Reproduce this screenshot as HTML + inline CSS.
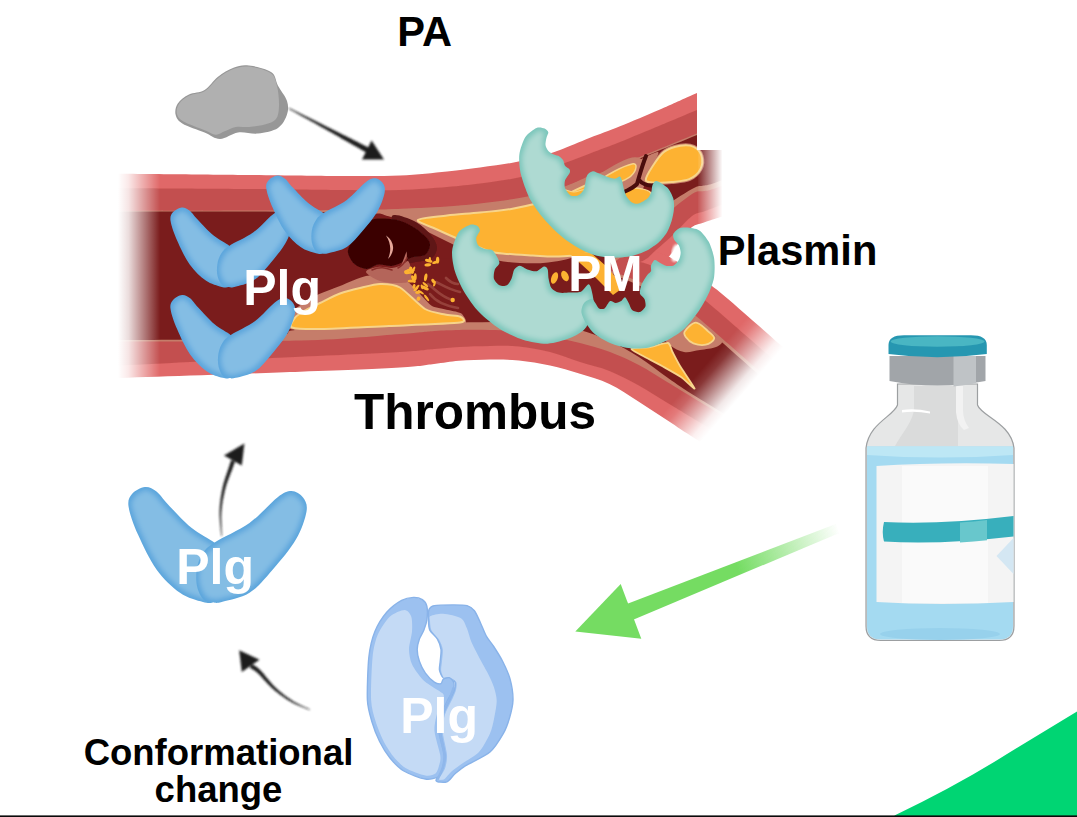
<!DOCTYPE html>
<html><head><meta charset="utf-8"><title>Plasminogen activation</title>
<style>
html,body{margin:0;padding:0;background:#fff;}
body{width:1077px;height:817px;overflow:hidden;font-family:"Liberation Sans",sans-serif;}
svg{display:block;}
text{font-family:"Liberation Sans",sans-serif;font-weight:bold;}
</style></head><body>
<svg width="1077" height="817" viewBox="0 0 1077 817">
<defs>
<linearGradient id="fadeL" gradientUnits="userSpaceOnUse" x1="118" y1="0" x2="160" y2="0">
<stop offset="0" stop-color="#fff" stop-opacity="1"/><stop offset="0.25" stop-color="#fff" stop-opacity="0.85"/><stop offset="1" stop-color="#fff" stop-opacity="0"/></linearGradient>
<linearGradient id="fadeU" gradientUnits="userSpaceOnUse" x1="697" y1="0" x2="722.5" y2="0">
<stop offset="0" stop-color="#fff" stop-opacity="0"/><stop offset="1" stop-color="#fff" stop-opacity="1"/></linearGradient>
<linearGradient id="fadeB" gradientUnits="userSpaceOnUse" x1="713" y1="356" x2="748.5" y2="387">
<stop offset="0" stop-color="#fff" stop-opacity="0"/><stop offset="0.2" stop-color="#fff" stop-opacity="0.12"/><stop offset="0.8" stop-color="#fff" stop-opacity="0.9"/><stop offset="1" stop-color="#fff" stop-opacity="1"/></linearGradient>
<linearGradient id="gArrow" gradientUnits="userSpaceOnUse" x1="735" y1="563" x2="838" y2="526">
<stop offset="0" stop-color="#74DC62" stop-opacity="1"/><stop offset="1" stop-color="#74DC62" stop-opacity="0"/></linearGradient>
<filter id="soft" x="-5%" y="-5%" width="110%" height="110%"><feGaussianBlur stdDeviation="0.6"/></filter>
<filter id="softA" x="-5%" y="-5%" width="110%" height="110%"><feGaussianBlur stdDeviation="0.8"/></filter>
<filter id="soft1" x="-5%" y="-5%" width="110%" height="110%"><feGaussianBlur stdDeviation="1"/></filter>
<filter id="edgeTeal" x="-5%" y="-5%" width="110%" height="110%">
<feFlood flood-color="#AEDAD2" result="light"/>
<feMorphology in="SourceAlpha" operator="erode" radius="3.2" result="er"/>
<feGaussianBlur in="er" stdDeviation="2.4" result="erb"/>
<feComposite in="light" in2="erb" operator="in" result="li"/>
<feComposite in="li" in2="SourceAlpha" operator="in" result="lc"/>
<feMerge><feMergeNode in="SourceGraphic"/><feMergeNode in="lc"/></feMerge>
<feGaussianBlur stdDeviation="0.5"/>
</filter>
<filter id="edgeBlue" x="-5%" y="-5%" width="110%" height="110%">
<feFlood flood-color="#84BDE4" result="light"/>
<feMorphology in="SourceAlpha" operator="erode" radius="3" result="er"/>
<feGaussianBlur in="er" stdDeviation="2.4" result="erb"/>
<feComposite in="light" in2="erb" operator="in" result="li"/>
<feComposite in="li" in2="SourceAlpha" operator="in" result="lc"/>
<feMerge><feMergeNode in="SourceGraphic"/><feMergeNode in="lc"/></feMerge>
<feGaussianBlur stdDeviation="0.5"/>
</filter>
<clipPath id="vclip"><rect x="100" y="0" width="597" height="500"/><rect x="697" y="150" width="200" height="400"/></clipPath>
</defs>
<rect x="0" y="0" width="1077" height="817" fill="#fff"/>
<g clip-path="url(#vclip)" filter="url(#soft)">
<path d="M100,173.5C125,173.8 210,174.6 250,175C290,175.4 315,175.9 340,176C365,176.1 382.2,176.3 400,175.5C417.8,174.7 433.7,172.7 447,171.4C460.3,170.1 468.9,169 480,167.5C491.1,166 503.7,164.3 513.7,162.5C523.7,160.7 532.3,158.6 540,156.5C547.7,154.4 551.7,153.1 560,150C568.3,146.9 580,141.8 590,137.8C600,133.9 608.3,131 620,126.3C631.7,121.6 647.2,115 660,109.5C672.8,104 677,101.8 697,93C717,84.2 766.2,63 780,57L780,198C769.5,201.4 729.4,214.2 716.7,218.3C704,222.4 708.1,221.1 704,222.5C699.9,223.9 695.8,224.2 692,227C688.2,229.8 684.3,234.7 681,239C677.7,243.3 675.5,248.8 672,253C668.5,257.2 665.3,260.5 660,264C654.7,267.5 650,273 640,274C630,275 623.3,268.2 600,270C576.7,271.8 550,281.7 500,285C450,288.3 366.7,289.2 300,290C233.3,290.8 133.3,290 100,290Z" fill="#E06767"/>
<path d="M100,258C133.3,258 233.3,258 300,258C366.7,258 450,258.3 500,258C550,257.7 576.7,257.3 600,256C623.3,254.7 629.7,250.3 640,250C650.3,249.7 656.5,252.5 662,254C667.5,255.5 668.3,256.2 673,259C677.7,261.8 682.7,265.9 690,271C697.3,276.1 701.4,277.1 716.7,289.6C732,302.1 762.7,329.5 781.6,345.9C800.5,362.3 821.9,381 830,388L760,478C749.6,471.7 712.8,449.5 697.5,440C682.2,430.5 677.8,427.2 668,420.8C658.2,414.4 648.6,407.8 638.8,401.7C629,395.6 619.2,388.6 609.4,384C599.6,379.4 589.9,376.9 580,373.8C570.1,370.7 560.2,367.7 550,365.5C539.8,363.3 529,361.5 519,360.5C509,359.5 500,359.6 490,359.6C480,359.7 468.3,360.1 459,360.8C449.7,361.5 443.8,362.9 434,364C424.2,365.1 422.3,366.2 400,367.5C377.7,368.8 350,369.9 300,371.7C250,373.5 133.3,377.4 100,378.5Z" fill="#E06767"/>
<path d="M100,188C125,188.2 210,188.7 250,189C290,189.3 315,189.8 340,190C365,190.2 382.2,190.5 400,190C417.8,189.5 433.7,188.1 447,187C460.3,185.9 468.9,184.9 480,183.5C491.1,182.1 503.7,180.4 513.7,178.5C523.7,176.6 532.3,174.3 540,172C547.7,169.7 551.7,167.9 560,164.8C568.3,161.7 580,157.2 590,153.4C600,149.6 608.3,146.7 620,142C631.7,137.3 647.2,130.8 660,125.5C672.8,120.2 677,118.4 697,110C717,101.6 766.2,80.8 780,75L780,183C769.5,186.9 729.4,201.9 716.7,206.7C704,211.4 708.1,209.9 704,211.5C699.9,213.1 697,212.2 692,216C687,219.8 680,228.3 674,234C668,239.7 661.7,245.3 656,250C650.3,254.7 649.3,258.7 640,262C630.7,265.3 623.3,266.2 600,270C576.7,273.8 550,281.7 500,285C450,288.3 366.7,289.2 300,290C233.3,290.8 133.3,290 100,290Z" fill="#C3504F"/>
<path d="M100,258C133.3,258 233.3,258 300,258C366.7,258 450,258.3 500,258C550,257.7 576.7,255.3 600,256C623.3,256.7 630,259.7 640,262C650,264.3 652.7,266.2 660,270C667.3,273.8 676.2,279.8 684,285C691.8,290.2 691.9,289.3 706.5,301.4C721.1,313.5 752.5,341.3 771.4,357.7C790.3,374.1 811.7,392.8 819.8,399.8L760,459C749.6,452.7 712.8,430.3 697.5,421C682.2,411.7 677.8,409.1 668,403.2C658.2,397.3 648.6,390.9 638.8,385.5C629,380.1 619.2,374.8 609.4,370.9C599.6,367 589.9,365.1 580,362C570.1,358.9 560.2,354.6 550,352C539.8,349.4 529,347.5 519,346.5C509,345.5 500,345.9 490,346C480,346.1 468.3,346.5 459,347C449.7,347.5 443.8,348.2 434,349C424.2,349.8 422.3,350.7 400,352C377.7,353.3 350,354.4 300,356.8C250,359.2 133.3,364.9 100,366.5Z" fill="#C3504F"/>
<path d="M100,211C125,210.9 210,210.7 250,210.5C290,210.3 315,210.2 340,210C365,209.8 382.2,209.6 400,209C417.8,208.4 433.7,207.4 447,206.5C460.3,205.6 468.9,204.8 480,203.5C491.1,202.2 503.7,200.6 513.7,199C523.7,197.4 532.3,195.8 540,194C547.7,192.2 551.7,190.8 560,188C568.3,185.2 580,180.8 590,177C600,173.2 602.2,172.2 620,165C637.8,157.8 670.3,144.5 697,133.5C723.7,122.5 766.2,104.8 780,99L780,164C769.5,167.9 729.4,183.2 716.7,187.7C704,192.2 708.1,189.9 704,191C699.9,192.1 699,189.5 692,194C685,198.5 672,209 662,218C652,227 641.3,239.7 632,248C622.7,256.3 611.3,264.3 606,268C600.7,271.7 617.7,267.2 600,270C582.3,272.8 550,281.7 500,285C450,288.3 366.7,289.2 300,290C233.3,290.8 133.3,290 100,290Z" fill="#C57D6B"/>
<path d="M100,258C133.3,258 233.3,258 300,258C366.7,258 450,258.3 500,258C550,257.7 582.3,254.3 600,256C617.7,257.7 599.3,263.7 606,268C612.7,272.3 629.7,277.2 640,282C650.3,286.8 658.9,291.5 668,297C677.1,302.5 679.4,302.6 694.7,315C710,327.4 740.7,354.9 759.6,371.3C778.5,387.7 799.9,406.4 808,413.4L760,438C749.6,431.8 712.8,409.7 697.5,400.5C682.2,391.3 677.8,388.5 668,382.6C658.2,376.7 648.6,370.1 638.8,365C629,359.9 619.2,355.5 609.4,351.8C599.6,348.1 589.9,345.6 580,343C570.1,340.4 560.2,338.4 550,336.5C539.8,334.6 529,332.6 519,331.5C509,330.4 500,330.2 490,330C480,329.8 468.3,329.8 459,330C449.7,330.2 443.8,330.3 434,331C424.2,331.7 422.3,332.4 400,334C377.7,335.6 350,339.2 300,340.5C250,341.8 133.3,341.3 100,341.5Z" fill="#C57D6B"/>
<path d="M100,211.5C125,211.5 210,211.3 250,211.5C290,211.7 318.3,212.2 340,212.5C361.7,212.8 362.2,213.8 380,213.6C397.8,213.3 430.3,211.9 447,211C463.7,210.1 468.9,209.2 480,208C491.1,206.8 503.7,205.3 513.7,203.5C523.7,201.7 532.3,199.2 540,197C547.7,194.8 551.7,193.1 560,190C568.3,186.9 580,182.4 590,178.5C600,174.6 602.2,173.8 620,166.5C637.8,159.2 670.3,146.1 697,135C723.7,123.9 766.2,105.8 780,100L780,159C769.5,162.9 729.4,177.8 716.7,182.2C704,186.6 708.1,184.4 704,185.5C699.9,186.6 699.7,184.6 692,189C684.3,193.4 668.7,202.7 658,212C647.3,221.3 637.2,235.7 628,245C618.8,254.3 607.7,263.8 603,268C598.3,272.2 617.2,267.2 600,270C582.8,272.8 550,281.7 500,285C450,288.3 366.7,289.2 300,290C233.3,290.8 133.3,290 100,290Z" fill="#7A1E1C"/>
<path d="M100,258C133.3,258 233.3,258 300,258C366.7,258 450,258.3 500,258C550,257.7 582.8,254.2 600,256C617.2,257.8 596.7,264.2 603,269C609.3,273.8 627.5,279.9 638,285C648.5,290.1 656.9,294.1 666,299.5C675.1,304.9 677.4,304.9 692.7,317.2C708,329.5 738.7,357.1 757.6,373.5C776.5,389.9 797.9,408.6 806,415.6L760,435C749.6,428.8 712.8,407 697.5,397.5C682.2,388 677.8,384.8 668,378C658.2,371.2 648.6,363.2 638.8,357C629,350.8 619.2,345.5 609.4,341C599.6,336.5 589.9,332.8 580,330C570.1,327.2 560.2,325.3 550,324C539.8,322.7 534.2,322.2 519,322C503.8,321.8 478.8,322 459,322.5C439.2,323 426.5,323.8 400,325C373.5,326.2 319,328 300,329.5C281,331 292.3,332.6 286,334C279.7,335.4 276.3,337.1 262,338C247.7,338.9 227,339.2 200,339.6C173,340 116.7,340.2 100,340.3Z" fill="#7A1E1C"/>
<path d="M380,211C386.2,208.3 424.7,208.8 447,207C469.3,205.2 494.9,203 513.7,200C532.5,197 545.6,193.3 560,189C574.4,184.7 591.3,172.2 600,174C608.7,175.8 612.3,189.3 612,200C611.7,210.7 604,228.7 598,238C592,247.3 584.3,251.9 576,256C567.7,260.1 557.3,261.3 548,262.5C538.7,263.7 528.8,263.4 520,263C511.2,262.6 503.3,261.8 495,260C486.7,258.2 479.2,255.7 470,252C460.8,248.3 450,242.8 440,238C430,233.2 420,227.5 410,223C400,218.5 373.8,213.7 380,211Z" fill="#C57D6B"/>
<path d="M660,330C663.3,325.2 681.3,315.3 690,316C698.7,316.7 706.7,329.8 712,334C717.3,338.2 721.3,338.8 722,341C722.7,343.2 719.7,345.5 716,347C712.3,348.5 705.3,349.2 700,350C694.7,350.8 689,352.8 684,352C679,351.2 674,348.7 670,345C666,341.3 656.7,334.8 660,330Z" fill="#C57D6B"/>
<path d="M418,220C419.8,217.8 436.7,216.8 447,215.5C457.3,214.2 468.9,213.7 480,212.5C491.1,211.3 500.4,211.1 513.7,208.5C527,205.9 545.6,201.6 560,197C574.4,192.4 586.7,182.2 600,181C613.3,179.8 635,181 640,190C645,199 638.6,224.6 630,235C621.4,245.4 600.5,249.1 588.6,252.7C576.7,256.3 568.1,255.9 558.8,256.4C549.5,256.9 543.4,256.1 532.9,255.5C522.4,254.9 504.8,254.1 495.7,252.7C486.6,251.3 484.6,249.4 478,247C471.4,244.6 463,241 456,238C449,235 442.3,232 436,229C429.7,226 416.2,222.2 418,220Z" fill="#FDB230" stroke="#F7D48A" stroke-width="2"/>
<path d="M600,176C602.7,173 614.7,169.7 620,167.5C625.3,165.3 634.9,161.6 640,159.5C645.1,157.4 656.1,151.5 658,152C659.9,152.5 655.5,159.5 654,163C652.5,166.5 648.7,174.1 647,178C645.3,181.9 643.8,189.2 641,192C638.2,194.8 629.9,198.6 626,199C622.1,199.4 615.5,196.2 612,195C608.5,193.8 601.6,192.5 600,190C598.4,187.5 597.3,179 600,176Z" fill="#C57D6B"/>
<path d="M598,182C599.5,178.7 609.2,173.3 615,170C620.8,166.7 628.8,162.8 633,162C637.2,161.2 639.8,162.7 640,165C640.2,167.3 637,172.8 634,176C631,179.2 626.7,181.7 622,184C617.3,186.3 610,190.3 606,190C602,189.7 596.5,185.3 598,182Z" fill="#C57D6B" stroke="#C57D6B" stroke-width="9"/>
<path d="M645.8,180C645.4,177 650.5,169.5 653.6,164.7C656.8,159.9 660.2,154.6 664.7,151.4C669.2,148.2 675.5,146.6 680.3,145.8C685.1,145.1 690.2,145.2 693.7,146.9C697.2,148.6 700.4,152.1 701.5,155.8C702.6,159.5 702.4,165.3 700.4,169.2C698.4,173.1 694,177.1 689.2,179.2C684.4,181.3 677,181.4 671.4,182C665.8,182.6 660.1,182.8 655.8,182.5C651.5,182.2 646.2,183 645.8,180Z" fill="#C57D6B" stroke="#C57D6B" stroke-width="4"/>
<path d="M600,181C601.3,178.3 609.7,173.8 615,171C620.3,168.2 628.5,164.7 632,164C635.5,163.3 636.2,165 636,167C635.8,169 633.7,173.5 631,176C628.3,178.5 624,180.2 620,182C616,183.8 610.3,187.2 607,187C603.7,186.8 598.7,183.7 600,181Z" fill="#FDB230" stroke="#F7D48A" stroke-width="1.5"/>
<path d="M645.8,180C645.4,177 650.5,169.5 653.6,164.7C656.8,159.9 660.2,154.6 664.7,151.4C669.2,148.2 675.5,146.6 680.3,145.8C685.1,145.1 690.2,145.2 693.7,146.9C697.2,148.6 700.4,152.1 701.5,155.8C702.6,159.5 702.4,165.3 700.4,169.2C698.4,173.1 694,177.1 689.2,179.2C684.4,181.3 677,181.4 671.4,182C665.8,182.6 660.1,182.8 655.8,182.5C651.5,182.2 646.2,183 645.8,180Z" fill="#FDB230" stroke="#F7D48A" stroke-width="2"/>
<path d="M622,192C623.7,190 629.3,188 634,188C638.7,188 647.7,189.7 650,192C652.3,194.3 650.7,199.7 648,202C645.3,204.3 638,206.3 634,206C630,205.7 626,202.3 624,200C622,197.7 620.3,194 622,192Z" fill="#FDB230" stroke="#F7D48A" stroke-width="1.5"/>
<path d="M564,190C564.7,189 570.7,192 574,192C577.3,192 583,189 584,190C585,191 582.3,196.7 580,198C577.7,199.3 572.7,199.3 570,198C567.3,196.7 563.3,191 564,190Z" fill="#FDB230" stroke="#F7D48A" stroke-width="1.2"/>
<path d="M646,156 C642,166 640,174 637,184 M637,184 C633,188 628,190 624,192 M639,180 C644,186 650,186 656,185" fill="none" stroke="#4A0C0C" stroke-width="4" stroke-linecap="round"/>
<path d="M288,328C284.5,325.7 289.1,315.6 292,312C294.9,308.4 307.4,300 313,297C318.6,294 333.8,288.4 340,286C346.2,283.6 359.9,277.3 366,276C372.1,274.7 387.1,274.3 392,275C396.9,275.7 404.7,279.8 408,282C411.3,284.2 417.2,291.2 420,294C422.8,296.8 428.7,304.1 432,306C435.3,307.9 444.5,309.1 448,310C451.5,310.9 460.4,312.1 462,314C463.6,315.9 470.5,324.1 462,326C453.5,327.9 405.3,329.3 389,330C372.7,330.7 333.8,332.2 322,332C310.2,331.8 291.5,330.3 288,328Z" fill="#C57D6B"/>
<path d="M292,327.5C288.7,326.3 293.1,320.6 294,319C294.9,317.4 297,315.4 300,313.5C303,311.6 315.3,305.3 320,303C324.7,300.7 335.3,295.2 340,293.5C344.7,291.8 355.3,289.1 360,288C364.7,286.9 375.3,284.1 380,284C384.7,283.9 394.8,284.6 400,287.5C405.2,290.4 419.8,305.9 425,309C430.2,312.1 440.9,313.6 445,314.5C449.1,315.4 458.2,315.6 460,316.5C461.8,317.4 468.3,321.5 460,322.6C451.7,323.7 405.1,325.3 389,326C372.9,326.7 333.3,328.8 322,329C310.7,329.2 295.3,328.7 292,327.5Z" fill="#FDB230" stroke="#F7D48A" stroke-width="2"/>
<path d="M631.4,348.8C632,347.9 646.3,347.6 650,347C653.7,346.4 665.8,342.5 668,343C670.2,343.5 671.3,349.7 672.5,352C673.7,354.3 677.8,362.4 680,366C682.2,369.6 694.5,387.4 694.6,388.5C694.7,389.6 684.3,379.2 681,377C677.7,374.8 665.7,368.1 662,366C658.3,363.9 647.1,358.2 644,356.5C640.9,354.8 630.8,349.8 631.4,348.8Z" fill="#FDB230" stroke="#F7D48A" stroke-width="1.8"/>
<path d="M684.9,331.2C686.5,328.8 692,322.6 695.9,322.6C699.8,322.6 705,328.6 708.1,331.2C711.2,333.8 714.6,336.2 714.2,338.5C713.8,340.8 709.2,343.9 705.7,344.7C702.2,345.5 696.7,344.6 693.4,343.4C690.1,342.2 687.4,339.3 686,337.3C684.6,335.3 683.2,333.6 684.9,331.2Z" fill="#FDB230" stroke="#F7D48A" stroke-width="1.8"/>
<path d="M392,216C394.3,212.8 407.7,218 414,221C420.3,224 426.2,229.7 430,234C433.8,238.3 436.7,243 437,247C437.3,251 435.5,255.5 432,258C428.5,260.5 420.7,261.3 416,262C411.3,262.7 406.7,265.7 404,262C401.3,258.3 402,247.7 400,240C398,232.3 389.7,219.2 392,216Z" fill="#5E1313"/>
<path d="M374,219C379,218 389.6,218.6 396,219.8C402.4,221 407.6,223.8 412.3,226.4C417,229 421.1,232.4 424,235.3C426.9,238.2 429.8,240.8 430,244C430.2,247.2 428.4,252.2 425.5,254.4C422.6,256.6 416,256.1 412.3,257.3C408.6,258.5 406.9,260.2 403.5,261.7C400.1,263.1 395.9,265.5 391.7,266C387.5,266.5 382.7,264.1 378.5,264.6C374.3,265.1 370.6,269 366.7,269C362.8,269 358.1,267 355,264.6C351.9,262.2 349.4,257.3 348.4,254.4C347.4,251.5 347.7,250.1 349,247C350.3,243.9 353.2,239.5 356,236C358.8,232.5 363,228.8 366,226C369,223.2 369,220 374,219Z" fill="#3A0606"/>
<path d="M386,235.5 C394,241 396,251 388,259 C391.5,251 391,243 386,235.5Z" fill="#E7A799"/>
<path d="M406.5,251.5 C408,258 405,265 400,268.5 C402.5,262 404.5,257 406.5,251.5Z" fill="#B9695E"/>
<path d="M366,272C365.7,269.7 373.7,267.7 378,267C382.3,266.3 388,268.3 392,268C396,267.7 399.3,266.2 402,265C404.7,263.8 406.5,260.2 408,261C409.5,261.8 410.7,266.7 411,270C411.3,273.3 412.5,278.8 410,281C407.5,283.2 401,283 396,283C391,283 385,282.8 380,281C375,279.2 366.3,274.3 366,272Z" fill="#B4655A"/>
<path d="M372,270 C380,266 386,268 392,270 M398,268 C402,266 405,262 407,258" fill="none" stroke="#8A2E2A" stroke-width="1.6" stroke-linecap="round"/>
<path d="M428,284 C436,290 440,296 452,300 M436,282 C444,286 450,290 460,292 M430,294 C436,302 446,306 458,308 M446,278 C450,282 454,284 458,284" fill="none" stroke="#A9584E" stroke-width="2.6" stroke-linecap="round" opacity="0.6"/>
<g fill="#FDB230"><ellipse cx="435.1" cy="262.4" rx="3" ry="1.5" transform="rotate(166 435.1 262.4)"/><ellipse cx="437.6" cy="260.1" rx="3.4" ry="1.7" transform="rotate(92 437.6 260.1)"/><ellipse cx="428.7" cy="260.8" rx="3.8" ry="1.6" transform="rotate(16 428.7 260.8)"/><ellipse cx="427.8" cy="264.9" rx="3.4" ry="1.6" transform="rotate(173 427.8 264.9)"/><ellipse cx="429.8" cy="259.1" rx="2.1" ry="1.2" transform="rotate(95 429.8 259.1)"/><ellipse cx="410.9" cy="269.4" rx="3" ry="1.8" transform="rotate(83 410.9 269.4)"/><ellipse cx="415.3" cy="276.7" rx="3.5" ry="1.4" transform="rotate(89 415.3 276.7)"/><ellipse cx="411.5" cy="281" rx="3.8" ry="1.6" transform="rotate(179 411.5 281)"/><ellipse cx="412" cy="271.8" rx="2.2" ry="1.7" transform="rotate(52 412 271.8)"/><ellipse cx="413.4" cy="279.2" rx="4.1" ry="1.8" transform="rotate(69 413.4 279.2)"/><ellipse cx="407" cy="271.5" rx="3" ry="1.9" transform="rotate(163 407 271.5)"/><ellipse cx="413.4" cy="269.9" rx="3.7" ry="1.2" transform="rotate(113 413.4 269.9)"/><ellipse cx="408.4" cy="273" rx="3.7" ry="1.1" transform="rotate(173 408.4 273)"/><ellipse cx="410.9" cy="270.2" rx="3.8" ry="1.2" transform="rotate(10 410.9 270.2)"/><ellipse cx="420.8" cy="292.2" rx="3.6" ry="1.1" transform="rotate(34 420.8 292.2)"/><ellipse cx="422" cy="286.9" rx="2.5" ry="1.2" transform="rotate(75 422 286.9)"/><ellipse cx="426.6" cy="297.9" rx="3.9" ry="1.2" transform="rotate(54 426.6 297.9)"/><ellipse cx="418.5" cy="298.7" rx="2.2" ry="1.9" transform="rotate(115 418.5 298.7)"/><ellipse cx="416" cy="289.1" rx="2.7" ry="1.3" transform="rotate(139 416 289.1)"/><ellipse cx="414" cy="286.4" rx="2.5" ry="1.5" transform="rotate(104 414 286.4)"/><ellipse cx="418.2" cy="292.3" rx="3.1" ry="1.5" transform="rotate(172 418.2 292.3)"/><ellipse cx="425.1" cy="287.9" rx="4" ry="1.7" transform="rotate(27 425.1 287.9)"/><ellipse cx="416.5" cy="288" rx="4.1" ry="1.2" transform="rotate(133 416.5 288)"/><ellipse cx="434.5" cy="283.8" rx="2.9" ry="1.1" transform="rotate(108 434.5 283.8)"/><ellipse cx="425.4" cy="284.6" rx="3.6" ry="1.2" transform="rotate(42 425.4 284.6)"/><ellipse cx="433.2" cy="281" rx="2.4" ry="1.6" transform="rotate(52 433.2 281)"/><ellipse cx="425.7" cy="277.3" rx="3.9" ry="1.6" transform="rotate(100 425.7 277.3)"/><circle cx="452.7" cy="300" r="2.2"/></g>
<path d="M570,254 L590,252 L606,266 L624,287 L613,295 L592,274 Z" fill="#FDB230"/>
<ellipse cx="554.5" cy="278" rx="3.2" ry="6" transform="rotate(20 554.5 278)" fill="#FDB230"/>
<ellipse cx="565" cy="276" rx="3.4" ry="5.6" transform="rotate(-25 565 276)" fill="#FDB230"/>
</g>
<rect x="100" y="160" width="60" height="230" fill="url(#fadeL)"/>
<rect x="697" y="80" width="140" height="70" fill="#fff"/>
<rect x="698" y="150" width="130" height="100" fill="url(#fadeU)"/>
<path d="M630,440 L765,285 L900,285 L900,520 L700,520 Z" fill="url(#fadeB)"/>
<g filter="url(#edgeBlue)"><path d="M172.9,212.3C171.1,214.6 169.9,216.4 170.6,221.1C171.3,225.8 173.9,233.1 177,240.3C180.2,247.6 184.9,257.7 189.7,264.4C194.5,271.1 200.5,276.8 205.8,280.5C211.1,284.2 217.7,285.8 221.6,286.9C225.4,287.9 227,287.9 229.1,286.5C231.2,285.1 232.9,282.2 233.9,278.6C234.9,274.9 235.4,269.1 235.3,264.8C235.1,260.4 234.2,255.5 233.2,252.3C232.2,249.2 232.8,248.8 229.5,246C226.2,243.2 218.9,240 213.6,235.6C208.3,231.2 201.6,223.7 197.6,219.5C193.6,215.4 192.3,212.7 189.7,210.7C187.1,208.7 184.6,207.2 181.8,207.5C179,207.8 174.8,210.1 172.9,212.3Z" fill="#5CA6DD"/></g><g filter="url(#edgeBlue)"><path d="M229.5,245.7C224.2,249.2 223.6,250.1 221.6,253C219.6,256 218.1,259.6 217.5,263.4C216.8,267.2 216.7,272.2 217.5,275.8C218.2,279.4 220.1,283.3 221.9,285.1C223.7,287 226.3,286.8 228.4,287.1C230.5,287.3 230.1,287.9 234.3,286.9C238.5,285.8 247.6,284.2 253.4,280.5C259.3,276.8 264.1,270.6 269.4,264.4C274.7,258.3 281.4,250.3 285.3,243.6C289.1,236.9 291.7,229.2 292.5,224.3C293.3,219.5 291.8,217 290.1,214.7C288.3,212.3 285,210.3 282.1,210.3C279.2,210.3 277.3,211 272.5,214.7C267.7,218.4 260.6,227.2 253.4,232.3C246.2,237.5 234.8,242.3 229.5,245.7Z" fill="#5CA6DD"/></g>
<g filter="url(#edgeBlue)"><path d="M173,300C171.1,302.4 169.9,304.3 170.6,309.2C171.3,314.1 173.9,321.7 177.2,329.3C180.4,336.8 185.2,347.4 190.1,354.4C195,361.4 201.2,367.3 206.6,371.2C212,375.1 218.7,376.8 222.7,377.8C226.6,378.8 228.3,378.9 230.4,377.4C232.5,376 234.2,372.9 235.3,369.2C236.3,365.4 236.8,359.3 236.7,354.8C236.6,350.2 235.6,345.1 234.6,341.8C233.6,338.5 234.1,338.1 230.8,335.2C227.5,332.3 220,328.9 214.6,324.3C209.1,319.7 202.3,311.9 198.2,307.5C194.1,303.2 192.8,300.4 190.1,298.3C187.4,296.2 184.9,294.7 182.1,295C179.2,295.3 174.9,297.7 173,300Z" fill="#5CA6DD"/></g><g filter="url(#edgeBlue)"><path d="M230.8,334.9C225.4,338.5 224.7,339.4 222.7,342.5C220.6,345.6 219.2,349.4 218.5,353.3C217.8,357.3 217.7,362.5 218.5,366.3C219.2,370.1 221.2,374 223,376C224.9,378 227.6,377.7 229.7,378C231.8,378.3 231.4,378.9 235.7,377.8C240,376.7 249.3,375.1 255.2,371.2C261.2,367.3 266.1,360.8 271.5,354.4C277,348 283.8,339.6 287.8,332.7C291.7,325.7 294.3,317.6 295.1,312.6C295.9,307.5 294.4,304.9 292.7,302.5C290.9,300 287.5,297.9 284.6,297.9C281.6,297.9 279.6,298.6 274.8,302.5C269.9,306.3 262.6,315.5 255.2,320.9C247.9,326.3 236.2,331.3 230.8,334.9Z" fill="#5CA6DD"/></g>
<g filter="url(#edgeBlue)"><path d="M268.7,180.3C266.8,182.5 265.7,184.3 266.4,188.9C267.1,193.5 269.6,200.7 272.7,207.7C275.7,214.8 280.3,224.7 285,231.3C289.6,237.8 295.4,243.4 300.6,247C305.7,250.7 312.1,252.2 315.9,253.2C319.6,254.2 321.2,254.2 323.2,252.9C325.2,251.5 326.8,248.7 327.8,245.1C328.8,241.6 329.3,235.9 329.2,231.6C329.1,227.3 328.1,222.5 327.2,219.5C326.2,216.4 326.8,216 323.6,213.3C320.4,210.5 313.3,207.4 308.2,203.1C303,198.8 296.5,191.4 292.6,187.3C288.7,183.3 287.5,180.7 285,178.7C282.4,176.7 280,175.3 277.3,175.6C274.6,175.9 270.5,178.1 268.7,180.3Z" fill="#5CA6DD"/></g><g filter="url(#edgeBlue)"><path d="M323.6,213C318.4,216.4 317.8,217.3 315.9,220.2C313.9,223 312.6,226.6 311.9,230.3C311.2,234 311.2,238.9 311.9,242.4C312.6,246 314.4,249.7 316.2,251.5C318,253.4 320.5,253.1 322.5,253.4C324.5,253.7 324.2,254.3 328.2,253.2C332.3,252.2 341.1,250.7 346.8,247C352.5,243.4 357.1,237.3 362.3,231.3C367.4,225.3 374,217.4 377.7,210.9C381.5,204.4 383.9,196.8 384.7,192.1C385.5,187.4 384,184.9 382.4,182.6C380.7,180.3 377.5,178.3 374.7,178.3C371.8,178.3 370,179 365.4,182.6C360.7,186.2 353.8,194.8 346.8,199.9C339.8,205 328.7,209.6 323.6,213Z" fill="#5CA6DD"/></g>
<g filter="url(#edgeBlue)"><path d="M132,494C129.3,497.3 127.6,499.9 128.6,506.7C129.6,513.5 133.3,524.1 138,534.6C142.7,545.1 149.5,559.8 156.5,569.5C163.5,579.2 172.2,587.4 180,592.8C187.8,598.2 197.3,600.5 203,602C208.7,603.5 211,603.5 214,601.5C217,599.5 219.5,595.2 221,590C222.5,584.8 223.2,576.3 223,570C222.8,563.7 221.4,556.5 220,552C218.6,547.5 219.4,546.8 214.6,542.8C209.8,538.8 199.2,534.1 191.4,527.7C183.6,521.3 173.8,510.4 168,504.4C162.2,498.4 160.3,494.5 156.5,491.6C152.7,488.7 149.1,486.6 145,487C140.9,487.4 134.7,490.7 132,494Z" fill="#5CA6DD"/></g><g filter="url(#edgeBlue)"><path d="M214.6,542.4C206.8,547.4 205.9,548.7 203,553C200.1,557.3 198,562.5 197,568C196,573.5 195.9,580.8 197,586C198.1,591.2 200.8,596.8 203.5,599.5C206.2,602.2 210,601.9 213,602.3C216,602.7 215.5,603.6 221.6,602C227.7,600.4 241,598.2 249.5,592.8C258,587.4 265.1,578.4 272.8,569.5C280.6,560.6 290.4,549 296,539.3C301.6,529.6 305.3,518.4 306.5,511.4C307.7,504.4 305.5,500.8 303,497.4C300.5,494 295.7,491 291.4,491C287.1,491 284.4,492.1 277.4,497.4C270.4,502.7 260,515.5 249.5,523C239,530.5 222.3,537.4 214.6,542.4Z" fill="#5CA6DD"/></g>
<ellipse cx="675.5" cy="253" rx="4" ry="9" fill="#fff" transform="rotate(10 675.5 253)" filter="url(#soft1)"/>
<g filter="url(#edgeTeal)"><path d="M469.7,224.9C467.2,225.8 460.9,228.8 458.6,232.3C456.3,235.8 452.6,245.7 452.1,250.9C451.6,256.1 453.3,265.9 454.9,271.3C456.5,276.7 460.9,286.3 464.1,291.7C467.3,297.1 474.3,307.2 479,312.1C483.7,317 493.5,325.1 499.4,328.8C505.3,332.5 517.2,338 523.6,340C530,342 541.5,344 547.7,343.7C553.9,343.4 565,340.1 570,338.1C575,336.1 581.7,332.5 584.9,328.8C588.1,325.1 593.1,314.9 594,310C594.9,305.1 592.7,295.4 592,292C591.3,288.6 590.1,284.3 588.6,284.3C587.1,284.3 583.5,290.6 581,291.7C578.5,292.8 573,292.5 570,292.6C567,292.7 561.3,293.2 558.8,292.6C556.3,292 552.8,289.9 551.4,288C550,286.1 549.1,281.2 548.6,278.7C548.1,276.2 548.3,271 547.7,269.4C547.1,267.8 545.5,266.3 544,266.6C542.5,266.9 538.8,270.9 536.6,271.3C534.4,271.7 529.5,270.1 527.3,269.4C525.1,268.7 521.6,265.7 519.9,265.7C518.2,265.7 515.4,267.7 514.3,269.4C513.2,271.1 512.5,276.6 511.5,278.7C510.5,280.8 508.5,284.3 506.9,285.2C505.3,286.1 501.1,286.1 499.4,285.2C497.7,284.3 494.5,280.8 493.9,278.7C493.3,276.6 494.1,271.5 494.8,269.4C495.5,267.3 499.3,264.9 499.4,262.9C499.5,260.9 496.7,256.3 495.7,254.6C494.7,252.9 493.5,250.6 492,249.9C490.5,249.2 486.5,249.6 484.6,249C482.7,248.4 479.2,246.8 478.1,245.3C477,243.8 476,239.9 476.2,237.9C476.4,235.9 479.8,232 479.9,230.4C480,228.8 478.5,226.5 477.1,225.8C475.7,225.1 472.2,224 469.7,224.9Z" fill="#7CC7BC"/></g>
<g filter="url(#edgeTeal)"><path d="M536.5,128C533.9,129.1 527.7,133.6 525.4,137.1C523.1,140.6 520.1,149.6 519.4,154.2C518.7,158.8 519.5,166.8 520.3,171.4C521.1,176 524.1,184.7 525.5,188.5C526.9,192.3 528.4,196.4 530.5,200C532.6,203.6 538.2,211.9 541.1,215.6C544,219.3 549.3,224.9 552.3,227.9C555.3,230.9 560.4,235.5 563.4,237.9C566.4,240.3 571.6,243.8 574.6,245.7C577.6,247.6 582.7,250.5 585.7,251.8C588.7,253.1 593.9,255 596.9,255.7C599.9,256.4 605,257.1 608,257.4C611,257.7 616.1,257.7 619.1,257.6C622.1,257.5 627.3,256.9 630.3,256.3C633.3,255.7 638.8,254 641.4,253C644,252 647.6,250.3 650,248.8C652.4,247.3 657.3,243.9 659.6,241.6C661.9,239.3 665.7,234.5 667.3,231.7C668.9,228.9 670.8,223.6 671.7,220.7C672.6,217.8 673.7,212.5 673.9,209.6C674.1,206.7 674.2,201.5 673.3,198.6C672.4,195.7 669.6,189.9 667.3,187.6C665,185.3 658.3,181.3 656.3,181C654.3,180.7 653.1,183.9 652.4,185.4C651.7,186.9 652,190.2 651.3,192C650.6,193.8 649.1,197.1 647.4,198.6C645.7,200.1 640.7,203.1 638.6,203.6C636.5,204.1 633.6,203.5 632,202.5C630.4,201.5 627.6,198.2 626.5,196.4C625.4,194.6 624.4,190.8 623.8,188.7C623.2,186.6 622.6,182.6 622.1,181C621.6,179.4 620.8,176.9 619.9,176.6C619,176.3 616.7,178.7 615.1,178.7C613.5,178.7 609.7,177.5 607.7,176.9C605.7,176.3 602.3,174.8 600.3,174.1C598.3,173.4 594.6,171.2 592.9,171.3C591.2,171.4 588.3,173.5 587.3,175C586.3,176.5 585.9,180.4 585.4,182.4C584.9,184.4 584.6,188.2 583.6,189.9C582.6,191.6 579.7,194.7 578,195.4C576.3,196.1 572.3,196.4 570.6,195.4C568.9,194.4 565.7,190 565,188C564.3,186 564.4,182.6 565,180.6C565.6,178.6 569,174.6 569.6,173.1C570.2,171.6 570.2,170.4 569.6,169.4C569,168.4 565.9,166.9 565,165.7C564.1,164.5 563.8,161.3 563.1,160.1C562.4,158.9 560.6,157.1 559.4,156.4C558.2,155.7 555.4,155.3 553.9,154.6C552.4,153.9 549.4,152.1 548.3,150.9C547.2,149.7 545.8,147 545.5,145.3C545.2,143.6 546,139.6 546.4,137.9C546.8,136.2 548.5,133.5 548.3,132.3C548.1,131.1 546.2,129.2 544.6,128.6C543,128 539.1,126.9 536.5,128Z" fill="#7CC7BC"/></g>
<g filter="url(#edgeTeal)"><path d="M686.3,227.6C689,227.8 696.3,228.5 699.3,230.4C702.3,232.3 706.6,237.9 708.6,241.6C710.6,245.3 713.4,253.6 714.1,258.3C714.8,263 714.8,272.2 714.1,276.9C713.4,281.6 710.6,289.1 708.6,293.6C706.6,298.1 702.5,305.6 699.3,310.3C696.1,315 688.6,324.8 684.4,328.8C680.2,332.8 672.4,337.5 667.7,340C663,342.5 654,346.3 649.1,347.4C644.2,348.5 635.5,348.8 630.6,348.3C625.7,347.8 616.7,345.6 612,343.7C607.3,341.8 598.8,337.1 595.3,334.4C591.8,331.7 587.9,326.3 586,323.3C584.1,320.3 581.7,314.8 581.4,312.1C581.1,309.4 582.7,304.6 584.1,302.9C585.5,301.2 590.1,299.1 591.6,299.1C593.1,299.1 594.3,301.7 595.3,302.9C596.3,304.1 597.8,307.7 599,308.4C600.2,309.1 603.1,309.4 604.6,308.4C606.1,307.4 608.6,301.7 610.1,301C611.6,300.3 614.2,302.9 615.7,302.9C617.2,302.9 620.1,301.7 621.3,301C622.5,300.3 624,297 625,297.3C626,297.6 627.7,301.2 628.7,302.9C629.7,304.6 630.9,309.1 632.4,310.3C633.9,311.5 638.2,312.6 639.9,312.1C641.6,311.6 644.8,308.3 645.4,306.6C646,304.9 645.2,300.8 644.5,299.1C643.8,297.4 640.3,295.6 639.9,293.6C639.5,291.6 640.7,286.8 641.7,284.3C642.7,281.8 646.1,276.7 647.3,275C648.5,273.3 650.5,272.5 651,271.3C651.5,270.1 650.5,267.2 651,265.7C651.5,264.2 653.5,260.5 654.7,260.1C655.9,259.7 658.8,262.2 660.3,262.9C661.8,263.6 664.2,265.3 665.9,265.7C667.6,266.1 671.6,266.4 673.3,265.7C675,265 677.8,261.8 678.8,260.1C679.8,258.4 680.7,254.7 680.7,252.7C680.7,250.7 679.7,247 678.8,245.3C677.9,243.6 674.9,241.2 674.2,239.7C673.5,238.2 672.7,235.6 673.3,234.1C673.9,232.6 677.1,229.5 678.8,228.6C680.5,227.7 683.6,227.4 686.3,227.6Z" fill="#7CC7BC"/></g>
<g filter="url(#soft)"><path d="M249,65.6C255.3,66.3 266.6,68.9 271.4,72.3C276.2,75.7 275.4,80.9 278,85.7C280.6,90.5 285.5,96.2 287,101C288.5,105.8 288.5,110.1 287,114.6C285.5,119.1 282.8,124.8 278,128C273.2,131.2 264.7,132.8 258,133.6C251.3,134.3 244.3,131.6 238,132.5C231.7,133.4 225.6,139 220,139C214.4,139 210.9,135.1 204.6,132.5C198.3,129.9 187.1,126.5 182.3,123.5C177.5,120.5 176.3,117.9 175.6,114.6C174.8,111.3 175.6,106.8 177.8,103.5C180,100.2 184.5,96.8 189,94.6C193.5,92.3 199.8,93 204.6,90C209.4,87 213.2,80.4 218,76.7C222.8,73 228.3,69.7 233.5,67.8C238.7,65.9 242.7,64.8 249,65.6Z" fill="#979797"/>
<path d="M249,66.6C255.1,67.3 265.8,69.8 270.5,73C275.2,76.2 275.6,80.5 277,86C278.4,91.5 279.2,100.2 279,105.7C278.8,111.2 278.4,115.8 276,119C273.6,122.2 269.2,123.3 264.7,124.6C260.2,125.9 253.8,126.6 249,127C244.2,127.4 239.9,126.3 235.8,127C231.7,127.7 227.9,130 224.6,131.3C221.2,132.6 219,134.9 215.7,134.7C212.4,134.5 210,132.4 204.6,130.2C199.2,128 188.1,124.2 183.5,121.5C178.9,118.8 177.8,116.9 177,114C176.2,111.1 176.9,107.1 179,104C181.1,100.9 185.2,97.8 189.5,95.6C193.8,93.4 200.2,94 205,91C209.8,88 213.8,81.4 218.6,77.7C223.4,74 228.7,70.7 233.8,68.8C238.9,66.9 242.9,65.9 249,66.6Z" fill="#B0B0B0"/></g>
<g fill="#1E1E1E" filter="url(#softA)">
<path d="M288.8,108.8L289.7,109.3L290.8,109.9L292,110.5L293.2,111.2L294.7,112L296.2,112.9L297.7,113.7L299.4,114.7L301.1,115.7L302.9,116.7L304.8,117.7L306.7,118.8L308.6,119.8L310.6,120.9L312.5,122L314.5,123.1L316.5,124.2L318.4,125.3L320.3,126.4L322.2,127.4L324.1,128.5L325.9,129.5L327.6,130.5L329.3,131.4L330.9,132.3L332.6,133.3L334.3,134.3L336.1,135.3L337.9,136.3L339.7,137.3L341.5,138.4L343.3,139.4L345.2,140.4L347,141.4L348.8,142.5L350.5,143.5L352.2,144.4L353.9,145.4L355.5,146.3L357.1,147.2L358.6,148.1L360.1,148.9L361.4,149.7L362.7,150.4L363.9,151L364.9,151.7L365.9,152.2L366.7,152.7L369.3,147.9L368.4,147.5L367.4,147L366.3,146.4L365.1,145.8L363.8,145.2L362.4,144.5L360.9,143.7L359.4,143L357.8,142.1L356.1,141.3L354.4,140.4L352.6,139.5L350.8,138.6L349,137.7L347.1,136.8L345.2,135.8L343.4,134.9L341.5,134L339.6,133L337.8,132.1L336,131.2L334.2,130.3L332.4,129.4L330.7,128.6L329,127.7L327.3,126.9L325.4,125.9L323.5,125L321.6,124L319.6,123.1L317.6,122.1L315.6,121.1L313.6,120.1L311.5,119.1L309.5,118.1L307.6,117.1L305.6,116.2L303.7,115.2L301.9,114.3L300.1,113.4L298.4,112.6L296.7,111.8L295.2,111L293.7,110.3L292.4,109.6L291.2,109L290.1,108.5L289.2,108Z"/>
<path d="M384,159.5 L362,159.5 L371.6,140.6 Z"/>
<path d="M221.9,536L221.9,535.4L221.9,534.8L221.9,534.1L221.8,533.3L221.8,532.4L221.7,531.5L221.7,530.6L221.6,529.5L221.6,528.5L221.5,527.4L221.5,526.3L221.4,525.1L221.4,524L221.3,522.8L221.3,521.6L221.3,520.4L221.2,519.2L221.2,518L221.2,516.9L221.2,515.7L221.3,514.6L221.3,513.5L221.3,512.5L221.4,511.4L221.5,510.5L221.6,509.5L221.7,508.5L221.8,507.5L221.9,506.5L222,505.5L222.1,504.5L222.3,503.6L222.4,502.6L222.6,501.6L222.7,500.6L222.9,499.7L223.1,498.7L223.3,497.7L223.5,496.8L223.7,495.8L223.9,494.9L224.1,493.9L224.3,493L224.5,492L224.7,491.1L224.9,490.2L225.2,489.2L225.4,488.3L225.7,487.4L225.9,486.5L226.2,485.6L226.5,484.6L226.8,483.7L227.1,482.7L227.5,481.7L227.8,480.8L228.2,479.8L228.5,478.9L228.9,477.9L229.2,477L229.6,476.1L229.9,475.2L230.3,474.3L230.6,473.4L230.9,472.6L231.3,471.8L231.6,471L231.9,470.3L232.1,469.5L232.4,468.9L232.6,468.2L232.9,467.6L233,467.1L233.2,466.6L233.4,466.1L233.5,465.7L233.7,465.3L233.8,464.9L233.9,464.6L234,464.3L234.1,464L234.2,463.8L234.3,463.5L234.4,463.3L234.5,463.1L234.5,463L234.6,462.8L234.6,462.7L234.7,462.5L234.7,462.4L234.8,462.3L234.8,462.1L234.9,462L234.9,461.9L234.9,461.8L235,461.7L231,460.3L231,460.5L230.9,460.6L230.9,460.7L230.9,460.8L230.8,460.9L230.8,461.1L230.7,461.2L230.7,461.3L230.7,461.5L230.6,461.7L230.5,461.8L230.5,462L230.4,462.3L230.3,462.5L230.3,462.7L230.2,463L230.1,463.3L230,463.7L229.9,464L229.7,464.4L229.6,464.9L229.5,465.3L229.3,465.8L229.1,466.4L229,467L228.8,467.6L228.5,468.2L228.3,469L228,469.7L227.8,470.5L227.5,471.3L227.2,472.2L226.9,473.1L226.6,474L226.3,474.9L226,475.8L225.6,476.8L225.3,477.8L225,478.8L224.7,479.7L224.4,480.7L224.1,481.8L223.8,482.8L223.5,483.8L223.3,484.7L223,485.7L222.8,486.7L222.6,487.7L222.4,488.6L222.2,489.6L222,490.5L221.8,491.5L221.6,492.4L221.5,493.4L221.3,494.4L221.1,495.3L221,496.3L220.8,497.3L220.7,498.3L220.6,499.3L220.4,500.3L220.3,501.3L220.2,502.3L220.1,503.3L220,504.3L219.9,505.3L219.8,506.3L219.8,507.3L219.7,508.3L219.7,509.3L219.6,510.3L219.6,511.4L219.6,512.4L219.6,513.5L219.6,514.6L219.6,515.7L219.7,516.9L219.7,518.1L219.8,519.3L219.9,520.5L219.9,521.7L220,522.8L220.1,524L220.2,525.2L220.3,526.3L220.4,527.5L220.5,528.6L220.6,529.6L220.7,530.6L220.8,531.6L220.9,532.5L221,533.3L221.1,534.1L221.2,534.8L221.2,535.5L221.3,536Z"/>
<path d="M244.4,443.5 L224,455.5 L241.8,465.5 Z"/>
<path d="M309.7,709.3L309.3,709.1L308.9,708.9L308.4,708.6L307.8,708.4L307.2,708.1L306.5,707.8L305.9,707.5L305.1,707.2L304.4,706.9L303.6,706.5L302.8,706.1L302,705.8L301.1,705.4L300.3,705L299.4,704.6L298.6,704.1L297.7,703.7L296.9,703.3L296.1,702.8L295.2,702.4L294.4,701.9L293.6,701.5L292.9,701L292.1,700.6L291.4,700.1L290.7,699.6L290,699.1L289.2,698.6L288.5,698.1L287.7,697.6L287,697.1L286.3,696.5L285.5,696L284.8,695.4L284.1,694.8L283.3,694.3L282.6,693.7L281.9,693.1L281.2,692.5L280.4,691.9L279.7,691.3L279,690.7L278.3,690.1L277.6,689.5L277,688.8L276.3,688.2L275.6,687.6L274.9,687L274.3,686.3L273.6,685.7L273,685L272.3,684.3L271.7,683.6L271,682.8L270.4,682.1L269.7,681.3L269.1,680.5L268.4,679.8L267.8,679L267.2,678.2L266.6,677.4L265.9,676.7L265.3,675.9L264.7,675.2L264.2,674.5L263.6,673.8L263,673.1L262.5,672.5L261.9,671.9L261.4,671.3L260.9,670.7L260.4,670.2L259.9,669.7L259.4,669.2L258.9,668.8L258.4,668.4L258,668L257.6,667.7L257.1,667.3L256.7,667L256.3,666.7L255.9,666.5L255.5,666.2L255.2,666L254.8,665.8L254.5,665.5L254.2,665.4L253.9,665.2L253.6,665L253.3,664.9L253.1,664.7L252.9,664.6L252.7,664.5L252.5,664.4L252.4,664.3L252.2,664.2L249.8,667.8L250,668L250.2,668.1L250.5,668.2L250.7,668.4L251,668.5L251.2,668.6L251.5,668.8L251.8,668.9L252.1,669.1L252.3,669.2L252.6,669.4L253,669.6L253.3,669.8L253.6,670L254,670.2L254.3,670.4L254.7,670.7L255.1,670.9L255.5,671.2L255.9,671.5L256.3,671.9L256.7,672.2L257.2,672.6L257.6,673L258.1,673.4L258.6,673.9L259.1,674.4L259.7,675L260.2,675.6L260.8,676.2L261.4,676.9L262,677.6L262.6,678.2L263.3,679L263.9,679.7L264.6,680.4L265.3,681.2L266,681.9L266.7,682.7L267.3,683.4L268.1,684.2L268.8,684.9L269.5,685.6L270.2,686.4L270.9,687.1L271.6,687.7L272.3,688.4L273.1,689L273.8,689.6L274.5,690.2L275.2,690.9L275.9,691.4L276.7,692L277.4,692.6L278.2,693.2L278.9,693.8L279.7,694.4L280.5,694.9L281.2,695.5L282,696L282.8,696.6L283.5,697.1L284.3,697.7L285.1,698.2L285.9,698.7L286.6,699.2L287.4,699.7L288.2,700.2L289,700.7L289.7,701.1L290.5,701.6L291.3,702L292,702.5L292.9,702.9L293.7,703.3L294.5,703.7L295.4,704.2L296.3,704.6L297.2,705L298,705.3L298.9,705.7L299.8,706.1L300.7,706.4L301.5,706.8L302.4,707.1L303.2,707.5L304,707.8L304.8,708.1L305.5,708.4L306.2,708.6L306.9,708.9L307.5,709.1L308.1,709.4L308.6,709.6L309,709.7L309.5,709.9Z"/>
<path d="M239.2,650.2 L241.8,672 L259.5,659.7 Z"/>
</g>
<g filter="url(#soft)">
<path d="M429.1,609.3C429.9,607.4 431.2,606.2 434.3,605.6C437.4,605 447.7,604.9 452.1,604.9C456.5,604.9 464,604.8 467,605.6C470,606.4 472.6,608.5 474.4,610.8C476.2,613.1 478.8,619.3 480.4,622.7C482,626.1 484.5,632.9 486.3,636.1C488.1,639.3 491.5,643.1 493.7,646.5C495.9,649.9 500.4,656.9 502.6,661.3C504.8,665.7 508.7,674 510.1,679.2C511.5,684.4 513.1,694.8 513,700C512.9,705.2 510.8,713.5 509.5,718C508.2,722.5 506,728.9 503.4,733.4C500.8,737.9 495,747.7 490,752C485,756.3 470.4,762.8 465.7,765.7C461,768.6 457.5,771.7 455,773.8C452.5,775.9 449.4,780.9 446.9,781.8C444.4,782.7 436.5,782.3 436,780.5C435.5,778.7 441.6,771.8 442.8,768.4C444,765 445.3,760 445,755C444.7,750 440.8,736.1 440.5,730.7C440.2,725.3 441.7,718.9 443,714.6C444.3,710.3 449.1,701.7 450.6,698.4C452.1,695.1 453.8,692.2 454.4,690C455,687.8 455.6,683.7 455,682C454.4,680.3 451.6,677.6 450,677C448.4,676.4 444.6,678.6 443.2,677.7C441.8,676.8 439.9,672.4 439.5,670.2C439.1,668 440,664.1 440.2,661.3C440.4,658.5 441.4,652.4 441,649.4C440.6,646.4 438.8,641.6 437.3,639C435.8,636.4 431,632.7 429.8,630.1C428.6,627.5 428.5,622.5 428.4,619.7C428.3,616.9 428.3,611.2 429.1,609.3Z" fill="#9CC1F0" stroke="#89B3E9" stroke-width="1.4"/>
<path d="M430.6,616C432.4,615 439.1,613.5 443.2,613.8C447.3,614.1 457.8,616.2 461,618.2C464.2,620.2 465.6,625.4 467,628.6C468.4,631.8 469.8,638.2 471.4,642C473,645.8 476.7,652.7 478.9,656.9C481.1,661.1 485.8,669.2 487.8,673.2C489.8,677.2 492.5,682.9 493.7,686.6C494.9,690.3 496.7,696.7 496.7,701C496.7,705.3 494.9,714.7 494,719C493.1,723.3 492,729 490,733.4C488,737.8 482.6,748.1 479,752C475.4,755.9 466.6,760.5 463,763C459.4,765.5 454.5,768.9 452,771C449.5,773.1 446.2,777.9 444.5,779C442.8,780.1 438.9,780.4 439,779C439.1,777.6 443.9,771.6 445,768.4C446.1,765.2 447.3,760 447,755C446.7,750 442.8,736.1 442.5,730.7C442.2,725.3 443.7,718.9 445,714.6C446.3,710.3 451.1,701.7 452.6,698.4C454.1,695.1 455.5,692.1 456,690C456.5,687.9 457,684 456.5,682.5C456,681 453.5,679.4 452,679C450.5,678.6 446.4,680.6 445,679.5C443.6,678.4 441.6,673.4 441.2,671C440.8,668.6 441.8,664.2 442,661.3C442.2,658.4 443.2,652.3 442.8,649.4C442.4,646.5 440.5,642 439,639.5C437.5,637 432.8,633 431.6,630.5C430.4,628 430.1,622.9 430,621C429.9,619.1 428.8,617 430.6,616Z" fill="#C4DAF5"/>
<path d="M413.5,597.4C410.7,597.5 405.2,598.4 401.6,600.4C398,602.4 390.3,608.1 386.7,612.3C383.1,616.5 377.3,625.7 374.9,631.6C372.5,637.5 369.9,647.8 368.9,656.9C367.9,666 367,691.3 367.4,700C367.8,708.7 370.4,716.5 372,722C373.6,727.5 377.2,736.7 379.6,741.5C382,746.3 386.8,754.1 390,758C393.2,761.9 399.1,768.2 403.8,771C408.5,773.8 420.6,778.3 425.3,779C430,779.7 436.4,778.2 438.8,776.5C441.2,774.8 442.3,768.9 443,766C443.7,763.1 444.8,759.7 444.2,755C443.6,750.3 439.2,736.1 438.8,730.7C438.4,725.3 440.3,718.7 441.5,714.6C442.7,710.5 446.2,703.1 447.7,700C449.2,696.9 452.1,693.4 452.9,691C453.7,688.6 454.1,683.9 453.6,682.1C453.1,680.3 450.6,678.1 449.2,677.7C447.8,677.3 444.3,678.4 443.2,679.2C442.1,680 442.2,683.2 441,683.6C439.8,684 436.4,683.5 434.3,682.1C432.2,680.7 427.4,676 425.4,673.2C423.4,670.4 420.5,664.5 419.4,661.3C418.3,658.1 417.2,652.4 417.2,649.4C417.2,646.4 418.5,641.6 419.4,639C420.3,636.4 422.9,632.7 423.9,630.1C424.9,627.5 426.5,622.9 426.9,619.7C427.3,616.5 427.5,609 426.9,606.3C426.3,603.6 424.2,600.9 422.4,599.7C420.6,598.5 416.3,597.3 413.5,597.4Z" fill="#9CC1F0" stroke="#89B3E9" stroke-width="1.4"/>
<path d="M404.6,610C401.7,610 393.3,613.4 389.7,616.7C386.1,620 380.1,629.2 377.8,634.6C375.5,640 373.5,648.2 372.6,656.9C371.7,665.6 370.7,691.5 371.1,700C371.5,708.5 373.9,715.7 375.5,721C377.1,726.3 380.7,735.3 383,740C385.3,744.7 390,752.3 393,756C396,759.7 401.2,765.4 405.5,768C409.8,770.6 421.3,774.8 425.3,775.5C429.3,776.2 433.6,775 435.5,773.5C437.4,772 438.9,766.5 439.5,764C440.1,761.5 440.9,759.4 440.2,755C439.5,750.6 434.9,736.5 434.5,731C434.1,725.5 435.9,718.1 437,714C438.1,709.9 442.2,703.2 443,700.5C443.8,697.8 444.4,695.7 443.2,694C442,692.3 437.1,690 434.3,688C431.5,686 425.4,682.4 422.4,679.2C419.4,676 413.8,668.3 412,664.3C410.2,660.3 409,653.8 409,649.4C409,645 411.7,636 412,631.6C412.3,627.2 412.3,619.6 411.3,616.7C410.3,613.8 407.5,610 404.6,610Z" fill="#C4DAF5"/>
<path d="M453.5,688C452.8,689.8 451.3,694.6 449.5,699C447.7,703.4 444.1,709.3 442.5,714.6C440.9,719.9 439.7,724 440,730.7C440.3,737.4 444,749 444.5,755C445,761 444.1,763.1 443,767C441.9,770.9 438.8,776.6 438,778.5" fill="none" stroke="#8FB7EB" stroke-width="2.4" stroke-linecap="round"/>
</g>
<g filter="url(#soft)">
<path d="M897.5,384 L897.5,405 C894,416 869,423 866,448 L866,626 Q866,640.5 881,640.5 L999,640.5 Q1014,640.5 1014,626 L1014,448 C1011,423 981,416 977.5,405 L977.5,384 Z" fill="#E6E7E7" stroke="#9C9FA1" stroke-width="1.2"/>
<path d="M914,386 L914,408 C914,420 903,432 895,446 L958,446 L958,386 Z" fill="#DADBDB"/>
<path d="M956,386 L956,412 Q957,424 964,430 L969,428 Q963,420 963,410 L963,386 Z" fill="#F2F2F2"/>
<path d="M902,410 Q915,408 930,411.5 L930,413.5 Q915,410.5 902,412.5 Z" fill="#fff"/>
<path d="M867,446.5 L1013,446.5 L1013,626 Q1013,639.5 999,639.5 L881,639.5 Q867,639.5 867,626 Z" fill="#A4DAF1"/>
<path d="M867,446.5 L1013,446.5 L1013,455 Q940,460 867,455 Z" fill="#BDE7F5"/>
<ellipse cx="940" cy="634" rx="60" ry="6" fill="#97D1EC"/>
<path d="M876.5,466 Q940,462 1013.5,464 L1013.5,602 Q940,606 876.5,602 Z" fill="#F4F4F4"/>
<rect x="902" y="466" width="86" height="137" fill="#FAFAFA"/>
<path d="M884,522 Q940,525 1013.5,516 L1013.5,536.5 Q940,545 884,541.5 Q881.5,532 884,522 Z" fill="#38AFBC"/>
<path d="M960,522.6 Q974,521.5 987,520 L987,540.2 Q974,541.6 960,542.4 Z" fill="#68C7CC"/>
<path d="M996.5,556 L1013.5,538 L1013.5,574 Z" fill="#D4E7F3"/>
<path d="M889.5,356 L985.5,356 L985.5,381 Q937,390 889.5,381 Z" fill="#A1A5A9"/>
<path d="M953.5,356 L976,356 L976,383 Q965,385.5 953.5,386.5 Z" fill="#BFC3C6"/>
<path d="M888.5,345 Q888.5,335 905,335.3 L970,335.3 Q986.8,335 986.8,345 L986.8,354 Q937,360.5 888.5,354 Z" fill="#2897B1"/>
<ellipse cx="937.6" cy="341.5" rx="47" ry="5.2" fill="#48B6C3"/>
</g>
<g filter="url(#soft)">
<path d="M623.5,605.2 L835.8,523.9 L838.8,533.2 L632,620.3 Z" fill="url(#gArrow)"/>
<path d="M575.3,631.5 L620.7,584.1 L641.3,638.7 Z" fill="#74DC62"/>
</g>
<path d="M894.5,817 L894.5,815.5 Q958,785 1007,754 L1077,711.5 L1077,817 Z" fill="#00D573"/>
<rect x="0" y="815.4" width="1077" height="1.6" fill="#0A0A0A"/>
<text x="397.3" y="46.3" font-size="41.6" fill="#000">PA</text>
<text x="354" y="429" font-size="49.5" fill="#000">Thrombus</text>
<text x="717.8" y="264.8" font-size="41.6" fill="#000">Plasmin</text>
<text x="243.2" y="304.5" font-size="50" fill="#fff">Plg</text>
<text x="568.2" y="291.4" font-size="49.6" fill="#fff">PM</text>
<text x="176.2" y="583.5" font-size="50" fill="#fff">Plg</text>
<text x="400.2" y="733.4" font-size="50" fill="#fff">Plg</text>
<text x="218.5" y="765.2" font-size="36.5" fill="#000" text-anchor="middle">Conformational</text>
<text x="218.5" y="802.3" font-size="36.5" fill="#000" text-anchor="middle">change</text>
</svg>
</body></html>
